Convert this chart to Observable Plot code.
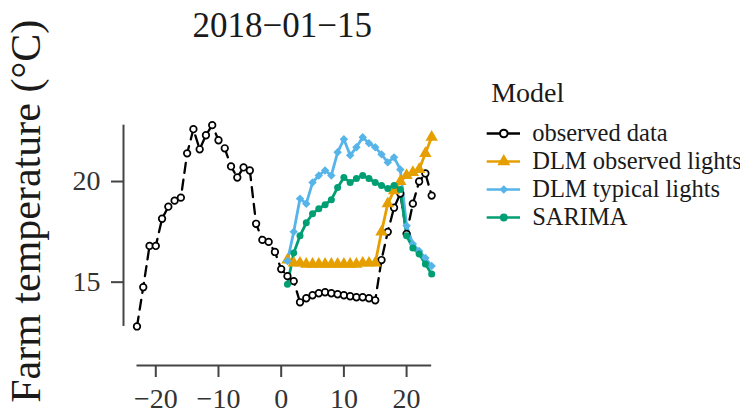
<!DOCTYPE html>
<html>
<head>
<meta charset="utf-8">
<script src="https://cdn.jsdelivr.net/npm/d3@7"></script>
<script src="https://cdn.jsdelivr.net/npm/@observablehq/plot@0.6"></script>
<style>
  html, body { margin: 0; padding: 0; background: #fff; overflow: hidden; }
  #wrap { position: relative; width: 740px; height: 410px; }
  #legend { position: absolute; left: 470px; top: 70px; }
</style>
</head>
<body>
<div id="wrap"><div id="main"></div><div id="legend"></div></div>
<script>
// ---- data ----
const title = "2018−01−15";
const yLabel = "Farm temperature (°C)";
const legendTitle = "Model";
const models = ["observed data", "DLM observed lights", "DLM typical lights", "SARIMA"];
const modelColors = ["#000000", "#E69F00", "#56B4E9", "#009E73"];
const modelSymbols = ["circle", "triangle", "diamond2", "circle"];

const xTicks = [-20, -10, 0, 10, 20];
const yTicks = [15, 20];

const obsHours = [-23,-22,-21,-20,-19,-18,-17,-16,-15,-14,-13,-12,-11,-10,-9,-8,-7,-6,-5,-4,-3,-2,-1,0,
                  1,2,3,4,5,6,7,8,9,10,11,12,13,14,15,16,17,18,19,20,21,22,23,24];
const obsTemp = [12.8,14.75,16.8,16.8,18.15,18.75,19.05,19.2,21.4,22.6,21.6,22.3,22.8,22.05,21.65,20.75,20.2,20.7,20.55,17.9,17.1,17.0,16.5,15.65,
                 15.3,15.05,14.0,14.2,14.35,14.45,14.5,14.45,14.4,14.35,14.3,14.25,14.25,14.2,14.1,16.1,17.5,18.7,19.4,17.4,18.9,20.0,20.4,19.3];

const fcHours = [1,2,3,4,5,6,7,8,9,10,11,12,13,14,15,16,17,18,19,20,21,22,23,24];
const dlmObserved = [16.1,15.95,15.95,15.9,15.9,15.9,15.9,15.9,15.9,15.9,15.9,15.9,15.95,15.95,15.95,17.5,18.9,19.55,20.0,20.3,20.45,20.6,21.4,22.2];
const dlmTypical  = [16.05,17.5,19.15,18.9,19.95,20.3,20.55,20.3,21.45,22.1,21.3,21.7,22.2,21.9,21.7,21.35,20.95,21.2,20.6,17.8,16.9,16.55,16.2,15.8];
const sarima      = [14.9,16.45,17.3,17.95,18.4,18.65,18.85,19.1,19.7,20.2,19.95,20.15,20.3,20.15,19.95,19.8,19.65,19.8,19.6,17.3,16.7,16.4,15.9,15.4];

// ---- tables ----
const obs = obsHours.map((h, i) => ({h, v: obsTemp[i]}));
const fcSeries = [dlmObserved, dlmTypical, sarima].map(vals => fcHours.map((h, i) => ({h, v: vals[i]})));

const allV = obsTemp.concat(dlmObserved, dlmTypical, sarima);
const yExt = d3.extent(allV);
const xExt = d3.extent(obsHours.concat(fcHours));

const serif = "'Liberation Serif', 'Times New Roman', serif";
const xDomain = [-25.15, 26.35];
const yDomain = [10.86, 23.3];
const axisColor = "#444";
const textColor = "#333";
const fmt = d3.format("d");

const marks = [
  // range-frame axis lines
  Plot.ruleX([xDomain[0]], {y1: yExt[0], y2: yExt[1], stroke: axisColor, strokeWidth: 2}),
  Plot.ruleY([yDomain[0]], {x1: xExt[0], x2: xExt[1], stroke: axisColor, strokeWidth: 2}),
  Plot.axisX({ticks: xTicks, tickFormat: fmt, tickSize: 12, tickPadding: 11, fontSize: 28, fontFamily: serif,
              stroke: axisColor, strokeWidth: 2, fill: textColor, label: null}),
  Plot.axisY({ticks: yTicks, tickFormat: fmt, tickSize: 12, tickPadding: 11, fontSize: 28, fontFamily: serif,
              stroke: axisColor, strokeWidth: 2, fill: textColor, label: null}),
  // lines
  Plot.line(obs, {x: "h", y: "v", stroke: modelColors[0], strokeWidth: 2.3, strokeDasharray: "10,7"}),
  ...fcSeries.map((s, i) => Plot.line(s, {x: "h", y: "v", stroke: modelColors[i + 1], strokeWidth: 2.8})),
  // points
  Plot.dot(obs, {x: "h", y: "v", r: 3.3, stroke: modelColors[0], fill: "white", strokeWidth: 1.7}),
  Plot.dot(fcSeries[0], {x: "h", y: "v", symbol: "triangle", r: 4.6, fill: modelColors[1]}),
  Plot.dot(fcSeries[1], {x: "h", y: "v", symbol: "diamond2", r: 3.8, fill: modelColors[2]}),
  Plot.dot(fcSeries[2], {x: "h", y: "v", symbol: "circle", r: 3.5, fill: modelColors[3]}),
  // title & y label
  Plot.text([title], {text: d => d, frameAnchor: "top", dx: -2.8, dy: -78.6, lineAnchor: "bottom",
                      fontSize: 35, fontFamily: serif, fill: "#1a1a1a"}),
  Plot.text([yLabel], {text: d => d, frameAnchor: "left", rotate: -90, dx: -84, dy: -29,
                       lineAnchor: "bottom", textAnchor: "middle", fontSize: 42, fontFamily: serif, fill: "#1a1a1a"})
];

const chart = Plot.plot({
  width: 740,
  height: 410,
  marginLeft: 123,
  marginRight: 294.1,
  marginTop: 114.6,
  marginBottom: 45,
  x: {domain: xDomain, axis: null},
  y: {domain: yDomain, axis: null},
  style: {fontFamily: serif, background: "white", overflow: "visible"},
  marks
});
document.getElementById("main").appendChild(chart);

// ---- legend ----
const keyX1 = 16.7, keyX2 = 50, keyMid = 33.3, labelX = 61.7;
const legendMarks = [
  Plot.text([legendTitle], {text: d => d, frameAnchor: "top-left", dx: 20.7, dy: 31.7, lineAnchor: "bottom",
                            fontSize: 28, fontFamily: serif, fill: "#1a1a1a"})
];
models.forEach((m, i) => {
  legendMarks.push(Plot.ruleY([m], {y: d => d, x1: keyX1, x2: keyX2, stroke: modelColors[i], strokeWidth: 2.6}));
  if (i === 0) {
    legendMarks.push(Plot.dot([m], {y: d => d, x: keyMid, r: 3.8, stroke: modelColors[i], fill: "white", strokeWidth: 2}));
  } else {
    legendMarks.push(Plot.dot([m], {y: d => d, x: keyMid, symbol: modelSymbols[i],
                                    r: i === 1 ? 4.8 : 3.9, fill: modelColors[i]}));
  }
  legendMarks.push(Plot.text([m], {y: d => d, x: labelX, text: d => d, textAnchor: "start",
                                   fontSize: 24.5, fontFamily: serif, fill: "#1a1a1a"}));
});
const legend = Plot.plot({
  width: 270,
  height: 170,
  margin: 0,
  x: {type: "identity", axis: null},
  y: {type: "point", domain: models, range: [61.7, 148.3], padding: 0, axis: null},
  style: {fontFamily: serif, background: "transparent", overflow: "visible"},
  marks: legendMarks
});
document.getElementById("legend").appendChild(legend);

// make sure every text uses the serif face
[chart, legend].forEach(svg => {
  d3.select(svg).selectAll("g, text").style("font-family", serif).style("font-variant", "normal");
});
</script>
</body>
</html>
